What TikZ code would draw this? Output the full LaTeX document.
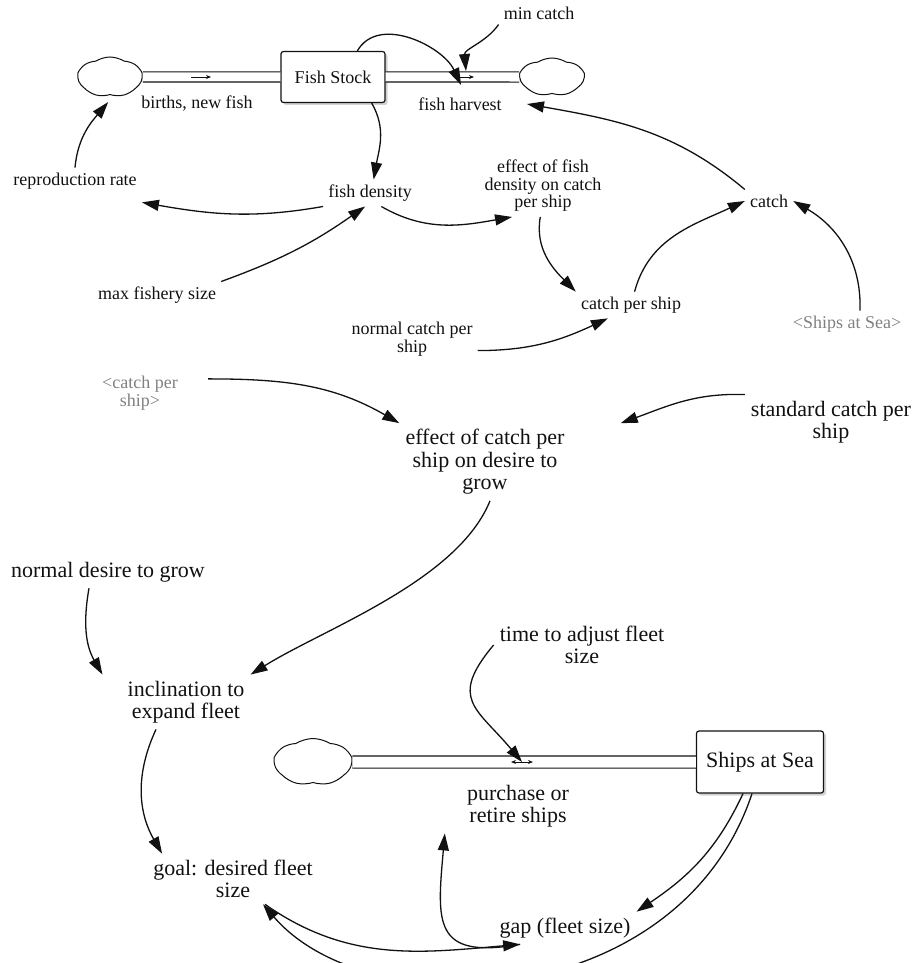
\documentclass[tikz,border=0pt]{standalone}
\usepackage{fontspec}
\setmainfont{Liberation Serif}
\newfontfamily\diagfont{Liberation Serif}
\usepackage{tikz}
\usetikzlibrary{arrows.meta,shapes.symbols,shadows}
\definecolor{ink}{HTML}{111111}
\definecolor{ghost}{HTML}{808080}

\begin{document}
\begin{tikzpicture}[x=1pt,y=1pt,>={Triangle[length=17pt,width=11pt]},
 lab/.style={align=center,inner sep=5pt,text=ink,font=\diagfont\fontsize{18}{17.5}\selectfont},
 biglab/.style={align=center,inner sep=6pt,text=ink,font=\diagfont\fontsize{22}{22.5}\selectfont},
 shadowlab/.style={lab,text=ghost},
 stockbox/.style={draw=ink,line width=1.2pt,rounded corners=2.5pt,fill=white,
  drop shadow={shadow xshift=2.5pt,shadow yshift=-2.5pt,fill=black!35}},
 sky/.style={cloud,draw=ink,line width=1pt,cloud puffs=7,cloud puff arc=65,aspect=1.6,inner sep=0pt},
 pipe/.style={draw=ink,line width=1.1pt,double=white,double distance=9pt},
 link/.style={draw=ink,line width=1.3pt,->},
 tick/.style={draw=ink,line width=0.9pt,-{Stealth[length=5pt,width=4pt]}}]
 \useasboundingbox (0,0) rectangle (923,-963);
 \clip (0,0) rectangle (923,-963);
 % fish stock and its flows
 \node[sky,minimum width=64pt,minimum height=40pt] (srcfish) at (110,-77) {};
 \node[stockbox,minimum width=104pt,minimum height=51pt,text=ink,font=\diagfont\fontsize{18}{18}\selectfont] (fish) at (333,-77) {Fish Stock};
 \node[sky,minimum width=64pt,minimum height=38pt] (sinkfish) at (552,-77) {};
 \draw[pipe] (srcfish) -- (fish);
 \draw[pipe] (fish) -- (sinkfish);
 \coordinate (bvalve) at (201,-77);
 \coordinate (hvalve) at (466,-77);
 \draw[tick] ([xshift=-10]bvalve) -- ([xshift=10]bvalve);
 \draw[tick] ([xshift=-8]hvalve) -- ([xshift=8]hvalve);
 \node[lab] (births) at (197,-104) {births, new fish};
 \node[lab] (harvest) at (460,-104) {fish harvest};
 \node[lab] (mincatch) at (539,-13) {min catch};
 \node[lab] (density) at (370,-193) {fish density};
 \node[lab] (repro) at (75,-181) {reproduction rate};
 \node[lab] (maxsize) at (157,-295) {max fishery size};
 \node[lab] (effdens) at (543,-186) {effect of fish\\density on catch\\per ship};
 \node[lab] (cps) at (631,-305) {catch per ship};
 \node[lab] (normcps) at (412,-339) {normal catch per\\ship};
 \node[lab] (catch) at (769,-201) {catch};
 \node[shadowlab] (shipsref) at (847,-324) {<Ships at Sea>};
 % fleet part
 \node[shadowlab] (cpsref) at (140,-393) {<catch per\\ship>};
 \node[biglab] (effcps) at (485,-462) {effect of catch per\\ship on desire to\\grow};
 \node[biglab] (stdcps) at (831,-422) {standard catch per\\ship};
 \node[biglab] (normdes) at (108,-572) {normal desire to grow};
 \node[biglab] (incline) at (186,-702) {inclination to\\expand fleet};
 \node[biglab] (goal) at (233,-879) {goal: desired fleet\\size};
 \node[sky,minimum width=77pt,minimum height=47pt] (srcship) at (313,-762) {};
 \node[stockbox,minimum width=127pt,minimum height=62pt,text=ink,font=\diagfont\fontsize{22}{22}\selectfont] (ships) at (760,-762) {Ships at Sea};
 \draw[pipe,double distance=11pt] (srcship) -- (ships);
 \coordinate (pvalve) at (522,-762);
 \draw[draw=ink,line width=0.9pt,{Stealth[length=5pt,width=4pt]}-{Stealth[length=5pt,width=4pt]}] ([xshift=-11]pvalve) -- ([xshift=11]pvalve);
 \node[biglab] (timeadj) at (582,-645) {time to adjust fleet\\size};
 \node[biglab] (purchase) at (518,-806) {purchase or\\retire ships};
 \node[biglab] (gap) at (565,-928) {gap (fleet size)};
 % links
 \draw[link] (fish.47) to[out=60,in=115] ([shift={(-5,-8)}]hvalve);
 \draw[link] (mincatch.south west) to[out=235,in=95] ([yshift=6]hvalve);
 \draw[link] (fish.-34) to[out=-60,in=80] (density.75);
 \draw[link,shorten >=8pt] (repro.north) to[out=85,in=230] (srcfish.-80);
 \draw[link] (density.south west) to[out=190,in=-10] ([yshift=-8]repro.south east);
 \draw[link] (maxsize.north east) to[out=20,in=215] (density.250);
 \draw[link] (density.-50) to[out=-30,in=190] (effdens.-135);
 \draw[link] (effdens.-95) to[out=-100,in=135] (cps.north west);
 \draw[link] (normcps.-10) to[out=0,in=205] (cps.-150);
 \draw[link] (cps.75) to[out=75,in=205] (catch.west);
 \draw[link] (catch.north west) to[out=140,in=-10] ([xshift=20]harvest.east);
 \draw[link] ([xshift=13]shipsref.north) to[out=88,in=-30] (catch.east);
 \draw[link] ([shift={(25,-8)}]cpsref.north east) to[out=0,in=150] (effcps.north west);
 \draw[link] (stdcps.north west) to[out=178,in=20] ([xshift=50]effcps.north east);
 \draw[link] ([xshift=5]effcps.south) to[out=-112,in=32,looseness=0.75] (incline.north east);
 \draw[link] ([xshift=-19]normdes.south) to[out=-100,in=120] ([xshift=-19]incline.north west);
 \draw[link] ([xshift=-30]incline.south) to[out=-115,in=120] ([xshift=15]goal.north west);
 \draw[link] (timeadj.west) to[out=-130,in=130,looseness=1.5] (pvalve);
 \draw[link] ([xshift=-17]ships.south) to[out=-115,in=34] (gap.north east);
 \draw[link] ([xshift=-8]ships.south) .. controls +(-72,-217) and +(107,-124) .. ([xshift=30]goal.south);
 \draw[link] ([xshift=32]goal.south) to[out=-35,in=185] (gap.-160);
 \draw[link] (gap.-160) to[out=190,in=-95,looseness=1.7] ([xshift=-16]purchase.south west);
\end{tikzpicture}
\end{document}
